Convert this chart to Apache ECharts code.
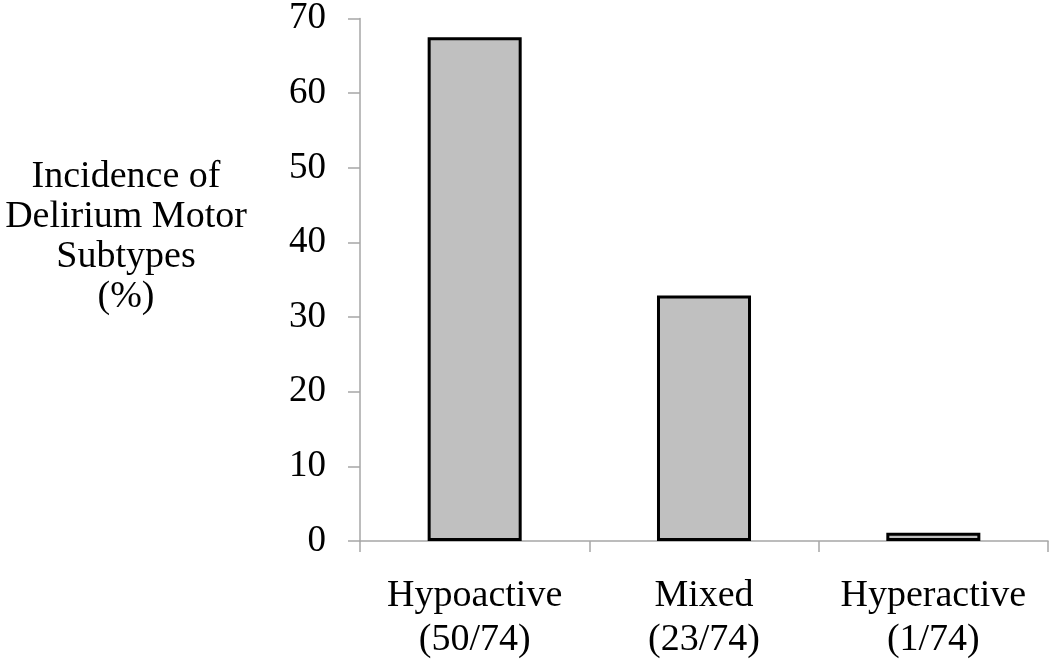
<!DOCTYPE html>
<html><head><meta charset="utf-8">
<script src="https://cdn.jsdelivr.net/npm/echarts@6/dist/echarts.min.js"></script>
<style>html,body{margin:0;padding:0;background:#fff}#c{width:1050px;height:663px}</style>
</head><body><div id="c"></div>
<script>
const categories = ['Hypoactive\n(50/74)', 'Mixed\n(23/74)', 'Hyperactive\n(1/74)'];
const values = [67.5, 32.9, 1.1];
const yTicks = [0, 10, 20, 30, 40, 50, 60, 70];
const yTitle = 'Incidence of\nDelirium Motor\nSubtypes\n(%)';

const font = '"Liberation Serif", "Times New Roman", serif';
const chart = echarts.init(document.getElementById('c'));
chart.setOption({
  animation: false,
  backgroundColor: '#fff',
  title: {
    text: yTitle,
    left: 121, top: 152,
    textAlign: 'center',
    textStyle: { fontFamily: font, fontSize: 38, fontWeight: 'normal', color: '#000', lineHeight: 40 }
  },
  grid: { left: 360, right: 2, top: 16, bottom: 122 },
  xAxis: {
    type: 'category',
    data: categories,
    axisLine: { lineStyle: { color: '#a6a6a6', width: 1.5 } },
    axisTick: { show: true, alignWithLabel: false, length: 11, lineStyle: { color: '#a6a6a6', width: 1.5 } },
    axisLabel: { interval: 0, fontFamily: font, fontSize: 38, color: '#000', margin: 33, lineHeight: 44 }
  },
  yAxis: {
    type: 'value',
    min: yTicks[0], max: yTicks[yTicks.length - 1], interval: 10,
    splitLine: { show: false },
    axisLine: { show: true, lineStyle: { color: '#a6a6a6', width: 1.5 } },
    axisTick: { show: true, length: 12, lineStyle: { color: '#a6a6a6', width: 1.5 } },
    axisLabel: { fontFamily: font, fontSize: 37, color: '#000', margin: 34 }
  },
  series: [{
    type: 'bar',
    data: values,
    barWidth: '41%',
    itemStyle: { color: '#c0c0c0', borderColor: '#000', borderWidth: 3 }
  }]
});
</script></body></html>
